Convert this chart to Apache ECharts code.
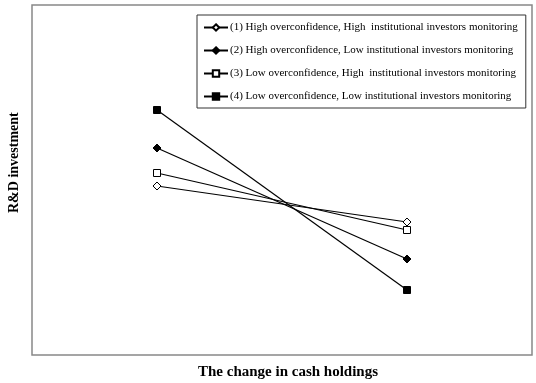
<!DOCTYPE html>
<html><head><meta charset="utf-8">
<script src="https://cdn.jsdelivr.net/npm/echarts@6/dist/echarts.min.js"></script>
<style>html,body{margin:0;padding:0;background:#fff}#c{width:536px;height:383px}</style>
</head><body><div id="c"></div>
<script>
const xPositions = [1, 3];
const seriesNames = [
  '(1) High overconfidence, High  institutional investors monitoring',
  '(2) High overconfidence, Low institutional investors monitoring',
  '(3) Low overconfidence, High  institutional investors monitoring',
  '(4) Low overconfidence, Low institutional investors monitoring'
];
const s1 = [169, 133];
const s2 = [207, 96];
const s3 = [182, 125];
const s4 = [245, 65];
const symbols = ['diamond', 'diamond', 'rect', 'rect'];
const filled = [false, true, false, true];
const values = [s1, s2, s3, s4];

const chart = echarts.init(document.getElementById('c'));
const series = values.map((v, i) => ({
  name: seriesNames[i],
  type: 'line',
  data: v.map((y, k) => [xPositions[k], y]),
  symbol: symbols[i],
  symbolSize: symbols[i] === 'rect' ? 7 : 8,
  showSymbol: true,
  lineStyle: { color: '#000', width: 1.2 },
  itemStyle: { color: filled[i] ? '#000' : '#fff', borderColor: '#000', borderWidth: 1 },
  emphasis: { disabled: true },
  z: 3
}));

chart.setOption({
  animation: false,
  grid: { left: 32, right: 4, top: 5, bottom: 28, show: true, borderColor: '#888', borderWidth: 1.5, backgroundColor: 'transparent' },
  xAxis: { type: 'value', min: 0, max: 4, show: false },
  yAxis: { type: 'value', min: 0, max: 350, show: false },
  legend: {
    orient: 'vertical', left: 197, top: 15,
    width: 330,
    padding: [6, 8, 5, 6],
    itemGap: 10, itemWidth: 24, itemHeight: 8,
    borderColor: '#333', borderWidth: 1, backgroundColor: '#fff',
    textStyle: { fontFamily: 'Liberation Serif', fontSize: 11, color: '#000', padding: [0, 0, 0, -3], lineHeight: 13 },
    data: seriesNames
  },
  graphic: [
    { type: 'text', left: 198, top: 365,
      style: { text: 'The change in cash holdings', font: 'bold 15px "Liberation Serif"', fill: '#000' } },
    { type: 'text', x: 7, y: 213, rotation: Math.PI / 2,
      style: { text: 'R&D investment', font: 'bold 14px "Liberation Serif"', fill: '#000', align: 'left', verticalAlign: 'top' } }
  ],
  series
});
</script></body></html>
